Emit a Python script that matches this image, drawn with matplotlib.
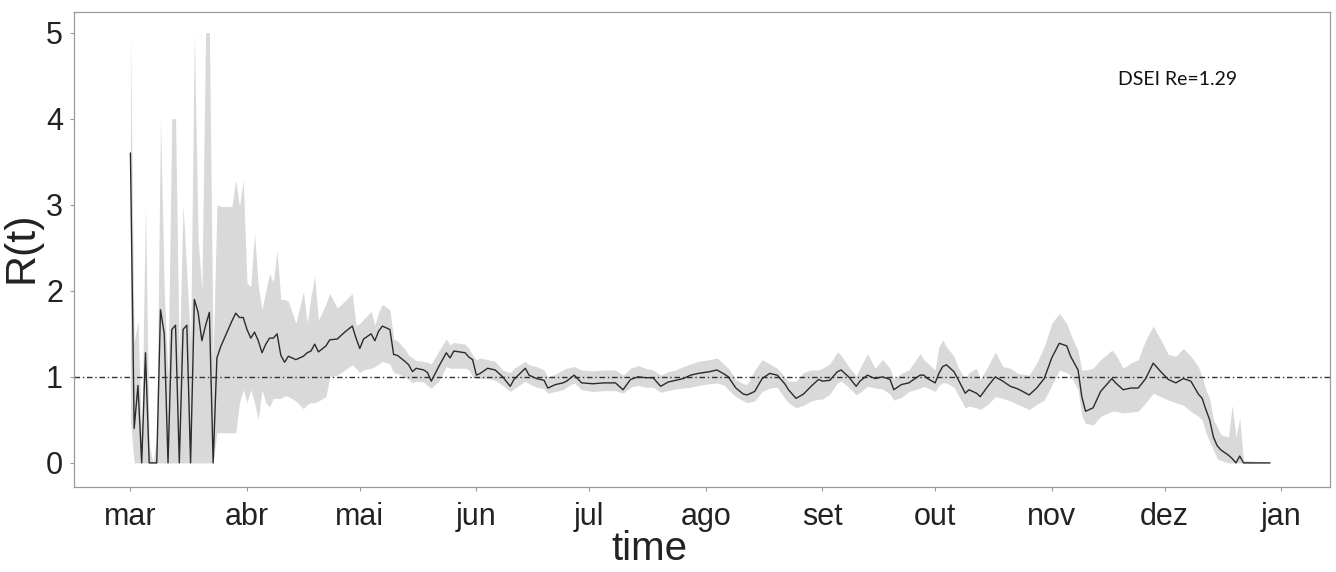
import matplotlib.pyplot as plt
import matplotlib.dates as md
import matplotlib.ticker
import numpy as np

plt.rcParams['font.family'] = ['Liberation Sans', 'DejaVu Sans']

start = np.datetime64('2020-03-01')

# days since 1 March; daily at the start, then every day or two
day = list(range(43)) + [
    44, 46, 47, 48, 49, 50, 52, 53, 55, 57,
    59, 60, 61, 62, 64, 65, 66, 67, 69, 70,
    71, 73, 74, 75, 76, 78, 79, 80, 82, 84,
    85, 86, 89, 90, 91, 92, 93, 95, 97, 99,
    101, 102, 105, 106, 108, 110, 111, 113, 115, 116,
    118, 120, 123, 126, 129, 131, 133, 135, 137, 139,
    141, 143, 145, 147, 149, 151, 154, 156, 158, 159,
    161, 163, 164, 166, 168, 170, 172, 174, 175, 177,
    179, 181, 183, 184, 186, 188, 189, 191, 193, 194,
    196, 198, 200, 202, 203, 205, 207, 210, 211, 212,
    214, 215, 216, 217, 219, 220, 222, 223, 225, 226,
    228, 230, 232, 234, 236, 239, 241, 243, 245, 247,
    249, 250, 252, 253, 254, 256, 258, 261, 262, 264,
    266, 268, 270, 272, 274, 276, 278, 280, 282, 284,
    285, 286, 287, 288, 289, 290, 292, 293, 294, 295,
    296, 303]

r_mean = [
    3.6, 0.4, 0.9, 0.0, 1.28, 0.0, 0.0, 0.0, 1.78, 1.5,
    0.0, 1.55, 1.6, 0.0, 1.55, 1.6, 0.0, 1.9, 1.75, 1.42,
    1.6, 1.75, 0.0, 1.22, 1.35, 1.45, 1.55, 1.65, 1.74, 1.69,
    1.69, 1.55, 1.45, 1.52, 1.42, 1.28, 1.38, 1.45, 1.45, 1.5,
    1.25, 1.17, 1.24,
    1.2, 1.24, 1.28, 1.3, 1.38, 1.29, 1.36, 1.43, 1.44, 1.52,
    1.59, 1.45, 1.33, 1.44, 1.5, 1.42, 1.53, 1.59, 1.55, 1.26,
    1.25, 1.18, 1.14, 1.06, 1.1, 1.08, 1.05, 0.95, 1.12, 1.28,
    1.22, 1.3, 1.28, 1.23, 1.2, 1.02, 1.04, 1.1, 1.08, 1.0,
    0.89, 0.97, 1.1, 1.02, 0.98, 0.96, 0.87, 0.91, 0.93, 0.95,
    1.02, 0.93, 0.92, 0.93, 0.93, 0.85, 0.97, 1.0, 0.99, 0.99,
    0.89, 0.94, 0.96, 0.98, 1.02, 1.04, 1.06, 1.08, 1.03, 1.0,
    0.87, 0.8, 0.79, 0.83, 0.98, 1.04, 1.02, 0.92, 0.85, 0.75,
    0.8, 0.89, 0.97, 0.95, 0.96, 1.06, 1.08, 1.0, 0.89, 0.95,
    1.02, 0.98, 1.0, 0.97, 0.85, 0.91, 0.93, 1.02, 1.02, 0.98,
    0.93, 1.04, 1.12, 1.14, 1.06, 0.98, 0.81, 0.85, 0.81, 0.77,
    0.89, 1.0, 0.95, 0.89, 0.86, 0.79, 0.87, 0.98, 1.22, 1.39,
    1.36, 1.24, 1.08, 0.77, 0.6, 0.64, 0.83, 0.98, 0.93, 0.85,
    0.87, 0.87, 0.98, 1.16, 1.06, 0.97, 0.93, 0.98, 0.95, 0.8,
    0.75, 0.62, 0.5, 0.3, 0.2, 0.15, 0.09, 0.05, 0.0, 0.08,
    0.0, 0.0]

r_low = [
    0.5, 0, 0, 0, 0, 0, 0, 0, 0, 0,
    0, 0, 0, 0, 0, 0, 0, 0, 0, 0,
    0, 0, 0, 0.35, 0.35, 0.35, 0.35, 0.35, 0.35, 0.7,
    0.85, 0.7, 0.85, 0.7, 0.5, 0.85, 0.7, 0.65, 0.75, 0.75,
    0.75, 0.78, 0.77,
    0.72, 0.63, 0.68, 0.7, 0.7, 0.72, 0.77, 1.0, 1.02, 1.08,
    1.14, 1.1, 1.05, 1.08, 1.1, 1.12, 1.15, 1.18, 1.15, 1.05,
    1.04, 1.0, 0.97, 0.93, 0.95, 0.94, 0.9, 0.87, 0.95, 1.12,
    1.1, 1.1, 1.1, 1.08, 1.0, 0.98, 0.98, 0.98, 0.96, 0.9,
    0.83, 0.86, 0.95, 0.92, 0.88, 0.86, 0.81, 0.83, 0.85, 0.88,
    0.93, 0.85, 0.83, 0.84, 0.84, 0.81, 0.88, 0.9, 0.88, 0.88,
    0.82, 0.84, 0.86, 0.87, 0.88, 0.9, 0.92, 0.93, 0.9, 0.85,
    0.77, 0.72, 0.7, 0.72, 0.83, 0.87, 0.88, 0.75, 0.7, 0.64,
    0.67, 0.72, 0.74, 0.74, 0.8, 0.93, 0.95, 0.88, 0.79, 0.82,
    0.89, 0.87, 0.86, 0.8, 0.73, 0.76, 0.83, 0.87, 0.89, 0.87,
    0.83, 0.9, 0.93, 0.93, 0.88, 0.8, 0.64, 0.66, 0.64, 0.62,
    0.68, 0.77, 0.75, 0.72, 0.68, 0.62, 0.68, 0.73, 0.9, 1.08,
    1.05, 1.02, 0.85, 0.55, 0.46, 0.44, 0.54, 0.6, 0.6, 0.58,
    0.59, 0.6, 0.7, 0.81, 0.77, 0.73, 0.7, 0.67, 0.6, 0.54,
    0.5, 0.35, 0.25, 0.15, 0.05, 0.03, 0.0, 0.0, 0.0, 0.0,
    0.0, 0.0]

r_high = [
    5.0, 1.4, 1.65, 0.3, 3.0, 0.2, 0.0, 0.3, 4.0, 2.0,
    1.0, 4.0, 4.0, 1.2, 3.0, 2.2, 1.4, 5.0, 2.6, 2.0,
    5.0, 5.0, 1.2, 3.0, 2.98, 2.98, 2.98, 2.98, 3.29, 2.98,
    3.29, 2.09, 2.05, 2.67, 2.05, 1.78, 2.0, 2.2, 2.1, 2.47,
    1.9, 1.9, 1.88,
    1.62, 1.99, 1.62, 1.93, 2.17, 1.66, 1.85, 1.97, 1.8, 1.88,
    1.97, 1.6, 1.62, 1.67, 1.76, 1.6, 1.75, 1.84, 1.78, 1.44,
    1.42, 1.32, 1.25, 1.22, 1.19, 1.18, 1.17, 1.15, 1.3, 1.44,
    1.37, 1.4, 1.38, 1.33, 1.25, 1.2, 1.22, 1.2, 1.18, 1.08,
    1.05, 1.1, 1.18, 1.14, 1.12, 1.08, 1.0, 1.03, 1.08, 1.1,
    1.12, 1.08, 1.07, 1.08, 1.08, 1.02, 1.1, 1.13, 1.1, 1.08,
    1.02, 1.06, 1.08, 1.12, 1.15, 1.18, 1.2, 1.22, 1.14, 1.1,
    0.97, 0.92, 0.91, 1.08, 1.2, 1.15, 1.1, 1.0, 0.95, 0.95,
    1.05, 1.08, 1.08, 1.1, 1.15, 1.29, 1.25, 1.12, 1.01, 1.1,
    1.27, 1.1, 1.2, 1.1, 0.97, 1.04, 1.08, 1.27, 1.2, 1.16,
    1.08, 1.35, 1.43, 1.35, 1.24, 1.12, 0.97, 1.05, 1.1, 0.97,
    1.12, 1.29, 1.12, 1.1, 1.04, 1.02, 1.16, 1.35, 1.62, 1.74,
    1.62, 1.5, 1.3, 1.08, 1.08, 1.1, 1.2, 1.31, 1.26, 1.1,
    1.16, 1.2, 1.43, 1.59, 1.43, 1.26, 1.24, 1.33, 1.24, 1.12,
    1.0, 0.85, 0.75, 0.5, 0.42, 0.33, 0.3, 0.67, 0.3, 0.52,
    0.03, 0.0]

month_pt = {1: 'jan', 2: 'fev', 3: 'mar', 4: 'abr', 5: 'mai', 6: 'jun',
            7: 'jul', 8: 'ago', 9: 'set', 10: 'out', 11: 'nov', 12: 'dez'}
y_ticks = [0, 1, 2, 3, 4, 5]
re_label = 'DSEI Re=1.29'

dates = start + np.array(day).astype('timedelta64[D]')

fig = plt.figure(figsize=(13.36, 5.72), dpi=100)
ax = fig.add_axes([0.0554, 0.1486, 0.9401, 0.8304])

ax.fill_between(dates, r_low, r_high, color='#d9d9d9', lw=0, zorder=1)
ax.plot(dates, r_mean, color='#2b2b2b', lw=1.0, zorder=3)
ax.axhline(1, color='#333333', lw=1.0, dashes=[4, 2, 1, 2], zorder=2)

ax.set_xlim(np.datetime64('2020-02-15'), np.datetime64('2021-01-14'))
ax.set_ylim(-0.28, 5.24)
ax.set_yticks(y_ticks)

ax.xaxis.set_major_locator(md.MonthLocator())
ax.xaxis.set_major_formatter(matplotlib.ticker.FuncFormatter(
    lambda x, pos: month_pt[md.num2date(x).month]))

for s in ax.spines.values():
    s.set_color('#9a9a9a')
    s.set_linewidth(0.9)
ax.tick_params(axis='both', colors='#9a9a9a', labelcolor='#222222',
               length=3, width=0.8, labelsize=22)
ax.tick_params(axis='x', pad=8)
ax.tick_params(axis='y', pad=5)

ax.set_ylabel('R(t)', fontsize=31, color='#222222')
ax.yaxis.set_label_coords(-0.0255, 0.505)
ax.set_xlabel('time', fontsize=29, color='#222222')
ax.xaxis.set_label_coords(0.458, -0.09)

ax.text(0.831, 0.857, re_label, transform=ax.transAxes, fontsize=14,
        family=['Lato', 'DejaVu Sans'], color='#111111', va='center')

plt.savefig('out.png')
